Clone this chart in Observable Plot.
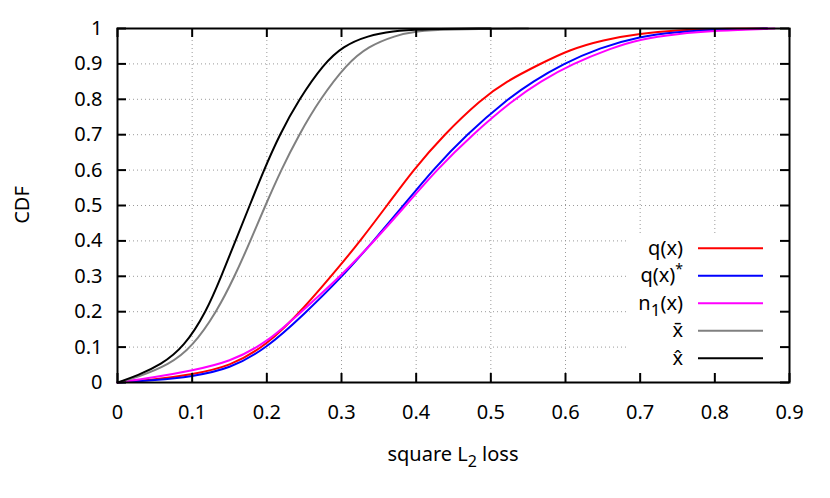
<!DOCTYPE html>
<html><head><meta charset="utf-8">
<script src="https://cdn.jsdelivr.net/npm/d3@7"></script>
<script src="https://cdn.jsdelivr.net/npm/@observablehq/plot@0.6"></script>
<style>
html,body{margin:0;padding:0;background:#fff;}
#chart{position:relative;width:830px;height:498px;}
</style></head><body><div id="chart"></div>
<script>
// ---- data ----
const xTicks = [0,0.1,0.2,0.3,0.4,0.5,0.6,0.7,0.8,0.9];
const xTickLabels = ["0","0.1","0.2","0.3","0.4","0.5","0.6","0.7","0.8","0.9"];
const yTicks = [0,0.1,0.2,0.3,0.4,0.5,0.6,0.7,0.8,0.9,1];
const yTickLabels = ["0","0.1","0.2","0.3","0.4","0.5","0.6","0.7","0.8","0.9","1"];

const seriesNames  = ["q(x)", "q(x)*", "n1(x)", "xbar", "xhat"];
const seriesColors = ["#ff0000", "#0000ff", "#ff00ff", "#808080", "#000000"];

const qx_x   = [0, 0.05, 0.10, 0.15, 0.20, 0.25, 0.30, 0.325, 0.361, 0.396, 0.437, 0.487, 0.520, 0.566, 0.605, 0.65, 0.70, 0.75, 0.80, 0.87];
const qx_y   = [0, 0.008, 0.023, 0.045, 0.105, 0.21, 0.335, 0.40, 0.50, 0.60, 0.70, 0.80, 0.85, 0.90, 0.94, 0.968, 0.986, 0.995, 0.999, 1];

const qxs_x  = [0, 0.05, 0.10, 0.15, 0.20, 0.25, 0.30, 0.343, 0.383, 0.422, 0.467, 0.522, 0.556, 0.597, 0.645, 0.70, 0.75, 0.80, 0.87];
const qxs_y  = [0, 0.006, 0.017, 0.038, 0.097, 0.193, 0.297, 0.40, 0.50, 0.60, 0.70, 0.80, 0.85, 0.90, 0.945, 0.978, 0.99, 0.997, 1];

const n1_x   = [0, 0.05, 0.10, 0.15, 0.20, 0.25, 0.30, 0.344, 0.386, 0.427, 0.475, 0.531, 0.566, 0.609, 0.662, 0.70, 0.75, 0.80, 0.88];
const n1_y   = [0, 0.015, 0.034, 0.058, 0.112, 0.207, 0.303, 0.40, 0.50, 0.60, 0.70, 0.80, 0.85, 0.90, 0.945, 0.97, 0.985, 0.994, 1];

const xbar_x = [0, 0.027, 0.069, 0.100, 0.133, 0.157, 0.178, 0.198, 0.219, 0.243, 0.271, 0.307, 0.336, 0.372, 0.40, 0.44, 0.55];
const xbar_y = [0, 0.015, 0.05, 0.10, 0.20, 0.30, 0.40, 0.50, 0.60, 0.70, 0.80, 0.90, 0.95, 0.98, 0.993, 0.998, 1];

const xhat_x = [0, 0.027, 0.058, 0.089, 0.119, 0.139, 0.158, 0.177, 0.196, 0.217, 0.243, 0.276, 0.302, 0.335, 0.37, 0.40, 0.50];
const xhat_y = [0, 0.02, 0.05, 0.10, 0.20, 0.30, 0.40, 0.50, 0.60, 0.70, 0.80, 0.90, 0.95, 0.98, 0.993, 0.998, 1];

const seriesX = [qx_x, qxs_x, n1_x, xbar_x, xhat_x];
const seriesY = [qx_y, qxs_y, n1_y, xbar_y, xhat_y];

// ---- build table ----
const rows = [];
seriesNames.forEach((name, i) => {
  seriesX[i].forEach((x, j) => rows.push({series: name, x, y: seriesY[i][j]}));
});

const W = 830, H = 498, mL = 117, mR = 41, mT = 28, mB = 116;
const innerW = W - mL - mR, innerH = H - mT - mB;
const tickLen = 9;
const font = "Noto Sans";

const chart = Plot.plot({
  width: W, height: H,
  marginLeft: mL, marginRight: mR, marginTop: mT, marginBottom: mB,
  style: {fontFamily: font, fontSize: "20px", color: "#000", background: "#fff", overflow: "visible"},
  x: {domain: [0, 0.9]},
  y: {domain: [0, 1]},
  color: {domain: seriesNames, range: seriesColors},
  marks: [
    Plot.gridX(xTicks.slice(1, -1), {stroke: "#9a9a9a", strokeOpacity: 1, strokeWidth: 1, strokeDasharray: "1,3"}),
    Plot.gridY(yTicks.slice(1, -1), {stroke: "#9a9a9a", strokeOpacity: 1, strokeWidth: 1, strokeDasharray: "1,3"}),
    Plot.line(rows, {x: "x", y: "y", z: "series", stroke: "series", strokeWidth: 2, curve: "basis"}),
    Plot.tickX(xTicks, {x: d => d, insetTop: innerH - tickLen, stroke: "#000", strokeWidth: 2}),
    Plot.tickX(xTicks, {x: d => d, insetBottom: innerH - tickLen, stroke: "#000", strokeWidth: 2}),
    Plot.tickY(yTicks, {y: d => d, insetRight: innerW - tickLen, stroke: "#000", strokeWidth: 2}),
    Plot.tickY(yTicks, {y: d => d, insetLeft: innerW - tickLen, stroke: "#000", strokeWidth: 2}),
    Plot.frame({stroke: "#000", strokeWidth: 2}),
    Plot.axisX(xTicks, {tickSize: 0, tickPadding: 22, fontSize: 20, tickFormat: (d, i) => xTickLabels[i], label: null}),
    Plot.axisY(yTicks, {tickSize: 0, tickPadding: 15, fontSize: 20, tickFormat: (d, i) => yTickLabels[i], label: null})
  ]
});
document.getElementById("chart").appendChild(chart);

const svg = d3.select(chart);
// white key box hiding the grid behind the legend
svg.insert("rect", 'g[aria-label="line"]')
  .attr("x", 629).attr("y", 234).attr("width", 160).attr("height", 139)
  .attr("fill", "#fff");

// legend
const legendRows = [
  {label: "q(x)", color: seriesColors[0]},
  {label: "q(x)*", color: seriesColors[1]},
  {label: "n1(x)", color: seriesColors[2]},
  {label: "x\u0304", color: seriesColors[3]},
  {label: "x\u0302", color: seriesColors[4]}
];
const lg = svg.append("g").attr("font-family", font).attr("font-size", 20).attr("fill", "#000");
legendRows.forEach((r, i) => {
  const y = 248.3 + i * 27.5;
  lg.append("line").attr("x1", 698).attr("x2", 763).attr("y1", y).attr("y2", y)
    .attr("stroke", r.color).attr("stroke-width", 2);
  const t = lg.append("text").attr("x", 683).attr("y", y).attr("dy", "0.33em").attr("text-anchor", "end");
  if (r.label === "q(x)*") {
    t.append("tspan").text("q(x)");
    t.append("tspan").attr("dy", -8).attr("font-size", 14).text("*");
  } else if (r.label === "n1(x)") {
    t.append("tspan").text("n");
    t.append("tspan").attr("dy", 6).attr("font-size", 17).text("1");
    t.append("tspan").attr("dy", -6).text("(x)");
  } else {
    t.text(r.label);
  }
});

// axis titles
const xt = svg.append("text").attr("x", mL + innerW / 2).attr("y", 461)
  .attr("text-anchor", "middle").attr("font-family", font).attr("font-size", 20).attr("fill", "#000");
xt.append("tspan").text("square L");
xt.append("tspan").attr("dy", 6).attr("font-size", 16).text("2");
xt.append("tspan").attr("dy", -6).text(" loss");

svg.append("text").attr("transform", `translate(29, ${mT + innerH / 2}) rotate(-90)`)
  .attr("text-anchor", "middle").attr("font-family", font).attr("font-size", 20).attr("fill", "#000")
  .text("CDF");
</script>
</body></html>
